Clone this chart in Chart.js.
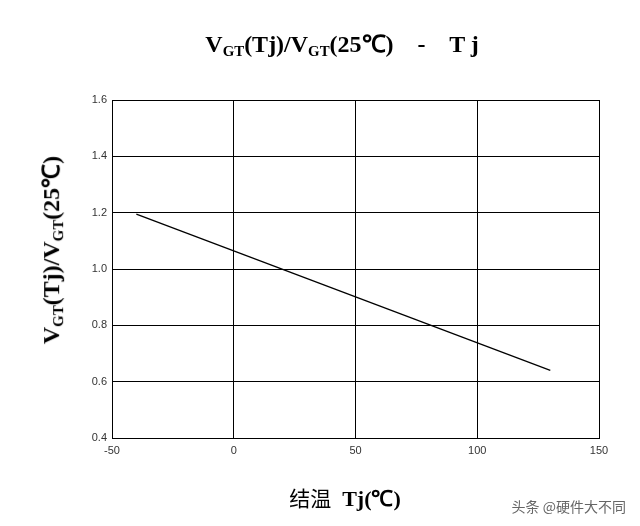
<!DOCTYPE html>
<html lang="zh">
<head>
  <meta charset="UTF-8">
  <title>VGT - Tj</title>
  <script src="https://cdn.jsdelivr.net/npm/chart.js"></script>
  <style>
    body { margin: 0; width: 640px; height: 526px; position: relative; background: #fff; overflow: hidden; }
    #wrap { position: absolute; left: 0; top: 0; width: 640px; height: 526px; }
    .t { position: absolute; font-family: "Liberation Serif", serif; font-weight: bold; color: #000; white-space: nowrap; }
    .t sub { font-size: 0.62em; vertical-align: -0.25em; }
    #title { left: 0; width: 684px; top: 26px; text-align: center; font-size: 24px; }
    #ylab { left: 50px; top: 250px; font-size: 24px; transform: translate(-50%, -50%) rotate(-90deg); }
    #xlab { left: 0; width: 690px; top: 482px; text-align: center; font-size: 22px; }
    #xlab .cn { font-family: "Noto Sans CJK SC", sans-serif; font-weight: normal; font-size: 21px; }
    #wm { position: absolute; right: 14px; top: 496px; font-family: "Noto Sans CJK SC", sans-serif; font-size: 14px; color: #666; }
  </style>
</head>
<body>
  <div id="wrap"><canvas id="c" width="640" height="526"></canvas></div>
  <div class="t" id="title">V<sub>GT</sub>(Tj)/V<sub>GT</sub>(25℃) &nbsp;&nbsp; - &nbsp;&nbsp; T j</div>
  <div class="t" id="ylab">V<sub>GT</sub>(Tj)/V<sub>GT</sub>(25℃)</div>
  <div class="t" id="xlab"><span class="cn">结温</span> &nbsp;Tj(℃)</div>
  <div id="wm">头条 @硬件大不同</div>
  <script>
    const tj = [-40, 130];
    const ratio = [1.195, 0.64];
    const xTicks = [-50, 0, 50, 100, 150];
    const yTicks = [0.4, 0.6, 0.8, 1.0, 1.2, 1.4, 1.6];

    new Chart(document.getElementById('c'), {
      type: 'scatter',
      data: {
        datasets: [{
          data: tj.map((x, i) => ({ x, y: ratio[i] })),
          showLine: true,
          borderColor: '#000',
          borderWidth: 1.3,
          pointRadius: 0
        }]
      },
      options: {
        responsive: false,
        animation: false,
        layout: { padding: { left: 0, top: 100, right: 41, bottom: 0 } },
        plugins: { legend: { display: false }, tooltip: { enabled: false } },
        scales: {
          x: {
            type: 'linear', min: -50, max: 150,
            afterBuildTicks: s => { s.ticks = xTicks.map(v => ({ value: v })); },
            afterFit: s => { s.height = 88; },
            grid: { color: '#000', drawTicks: false },
            border: { color: '#000' },
            ticks: { padding: 6, color: '#333', font: { family: 'Liberation Sans', size: 11 } }
          },
          y: {
            type: 'linear', min: 0.4, max: 1.6,
            afterBuildTicks: s => { s.ticks = yTicks.map(v => ({ value: v })); },
            afterFit: s => { s.width = 112; },
            grid: { color: '#000', drawTicks: false },
            border: { color: '#000' },
            ticks: { padding: 5, color: '#333', font: { family: 'Liberation Sans', size: 11 },
              callback: v => v.toFixed(1) }
          }
        }
      }
    });
  </script>
</body>
</html>
